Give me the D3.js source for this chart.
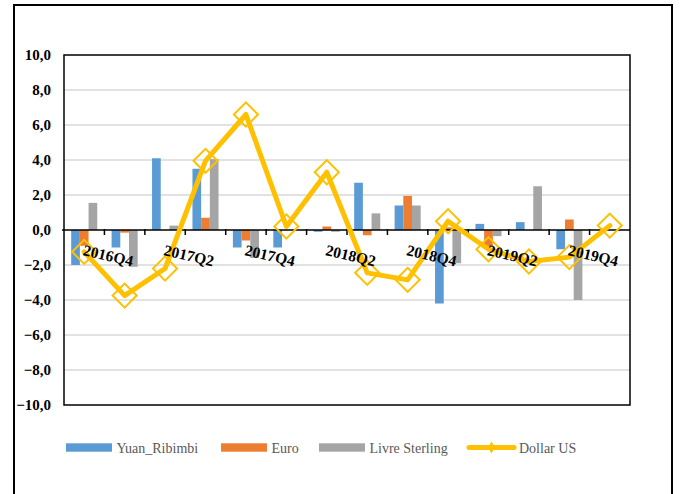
<!DOCTYPE html>
<html>
<head>
<meta charset="utf-8">
<script src="https://cdn.jsdelivr.net/npm/d3@7"></script>
<style>
  html, body { margin: 0; padding: 0; background: #fff; }
  svg { display: block; }
  .serif { font-family: "Liberation Serif", "Times New Roman", serif; }
</style>
</head>
<body>
<svg id="chart" width="684" height="494"></svg>
<script>
// Quarterly variation (%) of exchange rates
const quarters = ["2016Q4", "2017Q1", "2017Q2", "2017Q3", "2017Q4", "2018Q1", "2018Q2",
                  "2018Q3", "2018Q4", "2019Q1", "2019Q2", "2019Q3", "2019Q4", "2020Q1"];
const yuan   = [-2.0, -1.0, 4.1, 3.5, -1.0, -1.0, -0.1, 2.7, 1.4, -4.2, 0.35, 0.45, -1.1, null];
const euro   = [-0.9, -0.15, 0.0, 0.7, -0.6, 0.0, 0.2, -0.3, 1.95, 0.15, -0.95, 0.0, 0.6, null];
const livre  = [1.55, -2.1, 0.25, 4.05, -1.6, 0.0, -0.1, 0.95, 1.4, -1.9, -0.35, 2.5, -4.0, null];
const dollar = [-1.25, -3.75, -2.2, 3.95, 6.6, 0.2, 3.3, -2.45, -2.85, 0.5, -1.1, -1.8, -1.55, 0.25];
const yTicks = [-10, -8, -6, -4, -2, 0, 2, 4, 6, 8, 10];

const barSeries = [
  { name: "Yuan_Ribimbi", values: yuan,  color: "#5B9BD5" },
  { name: "Euro",         values: euro,  color: "#ED7D31" },
  { name: "Livre Sterling", values: livre, color: "#A5A5A5" }
];
const lineSeries = { name: "Dollar US", values: dollar, color: "#FFC000" };

const svg = d3.select("#chart");
const plot = { left: 64, top: 55, right: 630, bottom: 405 };

// outer chart frame
svg.append("rect")
  .attr("x", 14).attr("y", 5).attr("width", 658).attr("height", 520)
  .attr("fill", "none").attr("stroke", "#000").attr("stroke-width", 2);

const x = d3.scaleBand().domain(quarters).range([plot.left, plot.right]).padding(0);
const groupW = x.bandwidth() * 0.645;
const xs = d3.scaleBand().domain(barSeries.map(s => s.name)).range([0, groupW]).padding(0);
const y = d3.scaleLinear().domain([-10, 10]).range([plot.bottom, plot.top]);

// gridlines
svg.append("g").selectAll("line").data(yTicks.filter(t => t !== 0 && t !== -10 && t !== 10))
  .join("line")
  .attr("x1", plot.left).attr("x2", plot.right)
  .attr("y1", d => y(d)).attr("y2", d => y(d))
  .attr("stroke", "#D9D9D9").attr("stroke-width", 1.5);

// y-axis labels
const yAxis = d3.axisLeft(y).tickValues(yTicks).tickSize(0).tickPadding(13)
  .tickFormat(d => d3.format(".1f")(d).replace(".", ","));
const gy = svg.append("g").attr("transform", `translate(${plot.left},0)`).call(yAxis);
gy.attr("font-family", null).attr("font-size", null);
gy.select(".domain").remove();
gy.selectAll("text")
  .attr("class", "serif")
  .style("font-weight", "bold").style("font-size", "15px").attr("fill", "#000");

// bars
const barsG = svg.append("g");
barSeries.forEach(s => {
  barsG.append("g").selectAll("rect")
    .data(s.values.map((v, i) => ({ q: quarters[i], v })).filter(d => d.v !== null && d.v !== 0))
    .join("rect")
    .attr("x", d => x(d.q) + (x.bandwidth() - groupW) / 2 + xs(s.name))
    .attr("width", xs.bandwidth())
    .attr("y", d => y(Math.max(0, d.v)))
    .attr("height", d => Math.abs(y(d.v) - y(0)))
    .attr("fill", s.color);
});

// category axis on the zero line
const xAxis = d3.axisBottom(x).tickSize(0).tickFormat("");
const gx = svg.append("g").attr("transform", `translate(0,${y(0)})`).call(xAxis);
gx.select(".domain").attr("stroke", "#000").attr("stroke-width", 1.5)
  .attr("d", `M${plot.left - 2},0H${plot.right}`);
gx.selectAll(".tick").remove();
// tick marks at category boundaries
gx.append("g").selectAll("line").data(quarters.slice(1))
  .join("line")
  .attr("x1", d => x(d)).attr("x2", d => x(d))
  .attr("y1", -1).attr("y2", 5)
  .attr("stroke", "#000").attr("stroke-width", 1.5);

// plot area border
svg.append("rect")
  .attr("x", plot.left).attr("y", plot.top)
  .attr("width", plot.right - plot.left).attr("height", plot.bottom - plot.top)
  .attr("fill", "none").attr("stroke", "#000").attr("stroke-width", 1.5);

// dollar line with hollow diamond markers
const cx = q => x(q) + x.bandwidth() / 2;
const line = d3.line().x((d, i) => cx(quarters[i])).y(d => y(d)).curve(d3.curveLinear);
svg.append("path").datum(lineSeries.values)
  .attr("d", line).attr("fill", "none")
  .attr("stroke", lineSeries.color).attr("stroke-width", 5)
  .attr("stroke-linejoin", "round").attr("stroke-linecap", "round");
const diamond = d3.symbol().type(d3.symbolSquare).size(290);
svg.append("g").selectAll("path").data(lineSeries.values)
  .join("path")
  .attr("d", diamond())
  .attr("transform", (d, i) => `translate(${cx(quarters[i])},${y(d)}) rotate(45)`)
  .attr("fill", "none").attr("stroke", lineSeries.color).attr("stroke-width", 2);

// rotated category labels, every second quarter
svg.append("g").selectAll("text").data(quarters.filter((q, i) => i % 2 === 0))
  .join("text")
  .attr("class", "serif")
  .attr("text-anchor", "start")
  .attr("transform", d => `translate(${cx(d) - 2},${y(0) + 25}) rotate(13)`)
  .style("font-weight", "bold").style("font-size", "15.5px").attr("fill", "#000")
  .text(d => d);

// legend
const legend = [
  { name: barSeries[0].name, color: barSeries[0].color, x: 66,  type: "bar" },
  { name: barSeries[1].name, color: barSeries[1].color, x: 221, type: "bar" },
  { name: barSeries[2].name, color: barSeries[2].color, x: 319, type: "bar" },
  { name: lineSeries.name,   color: lineSeries.color,   x: 467, type: "line" }
];
const lg = svg.append("g").selectAll("g").data(legend).join("g")
  .attr("transform", d => `translate(${d.x},447.5)`);
lg.filter(d => d.type === "bar").append("rect")
  .attr("x", 0).attr("y", -4.2).attr("width", 46).attr("height", 8.4)
  .attr("fill", d => d.color);
lg.filter(d => d.type === "line").append("line")
  .attr("x1", 2).attr("x2", 47).attr("y1", 0).attr("y2", 0)
  .attr("stroke", d => d.color).attr("stroke-width", 5).attr("stroke-linecap", "round");
lg.filter(d => d.type === "line").append("path")
  .attr("d", d3.symbol().type(d3.symbolDiamond).size(40)())
  .attr("transform", "translate(24.5,0)")
  .attr("fill", d => d.color);
lg.append("text")
  .attr("class", "serif")
  .attr("x", d => d.type === "line" ? 52 : 50.5).attr("y", 5)
  .style("font-size", "14px").attr("fill", "#595959")
  .text(d => d.name);
</script>
</body>
</html>
